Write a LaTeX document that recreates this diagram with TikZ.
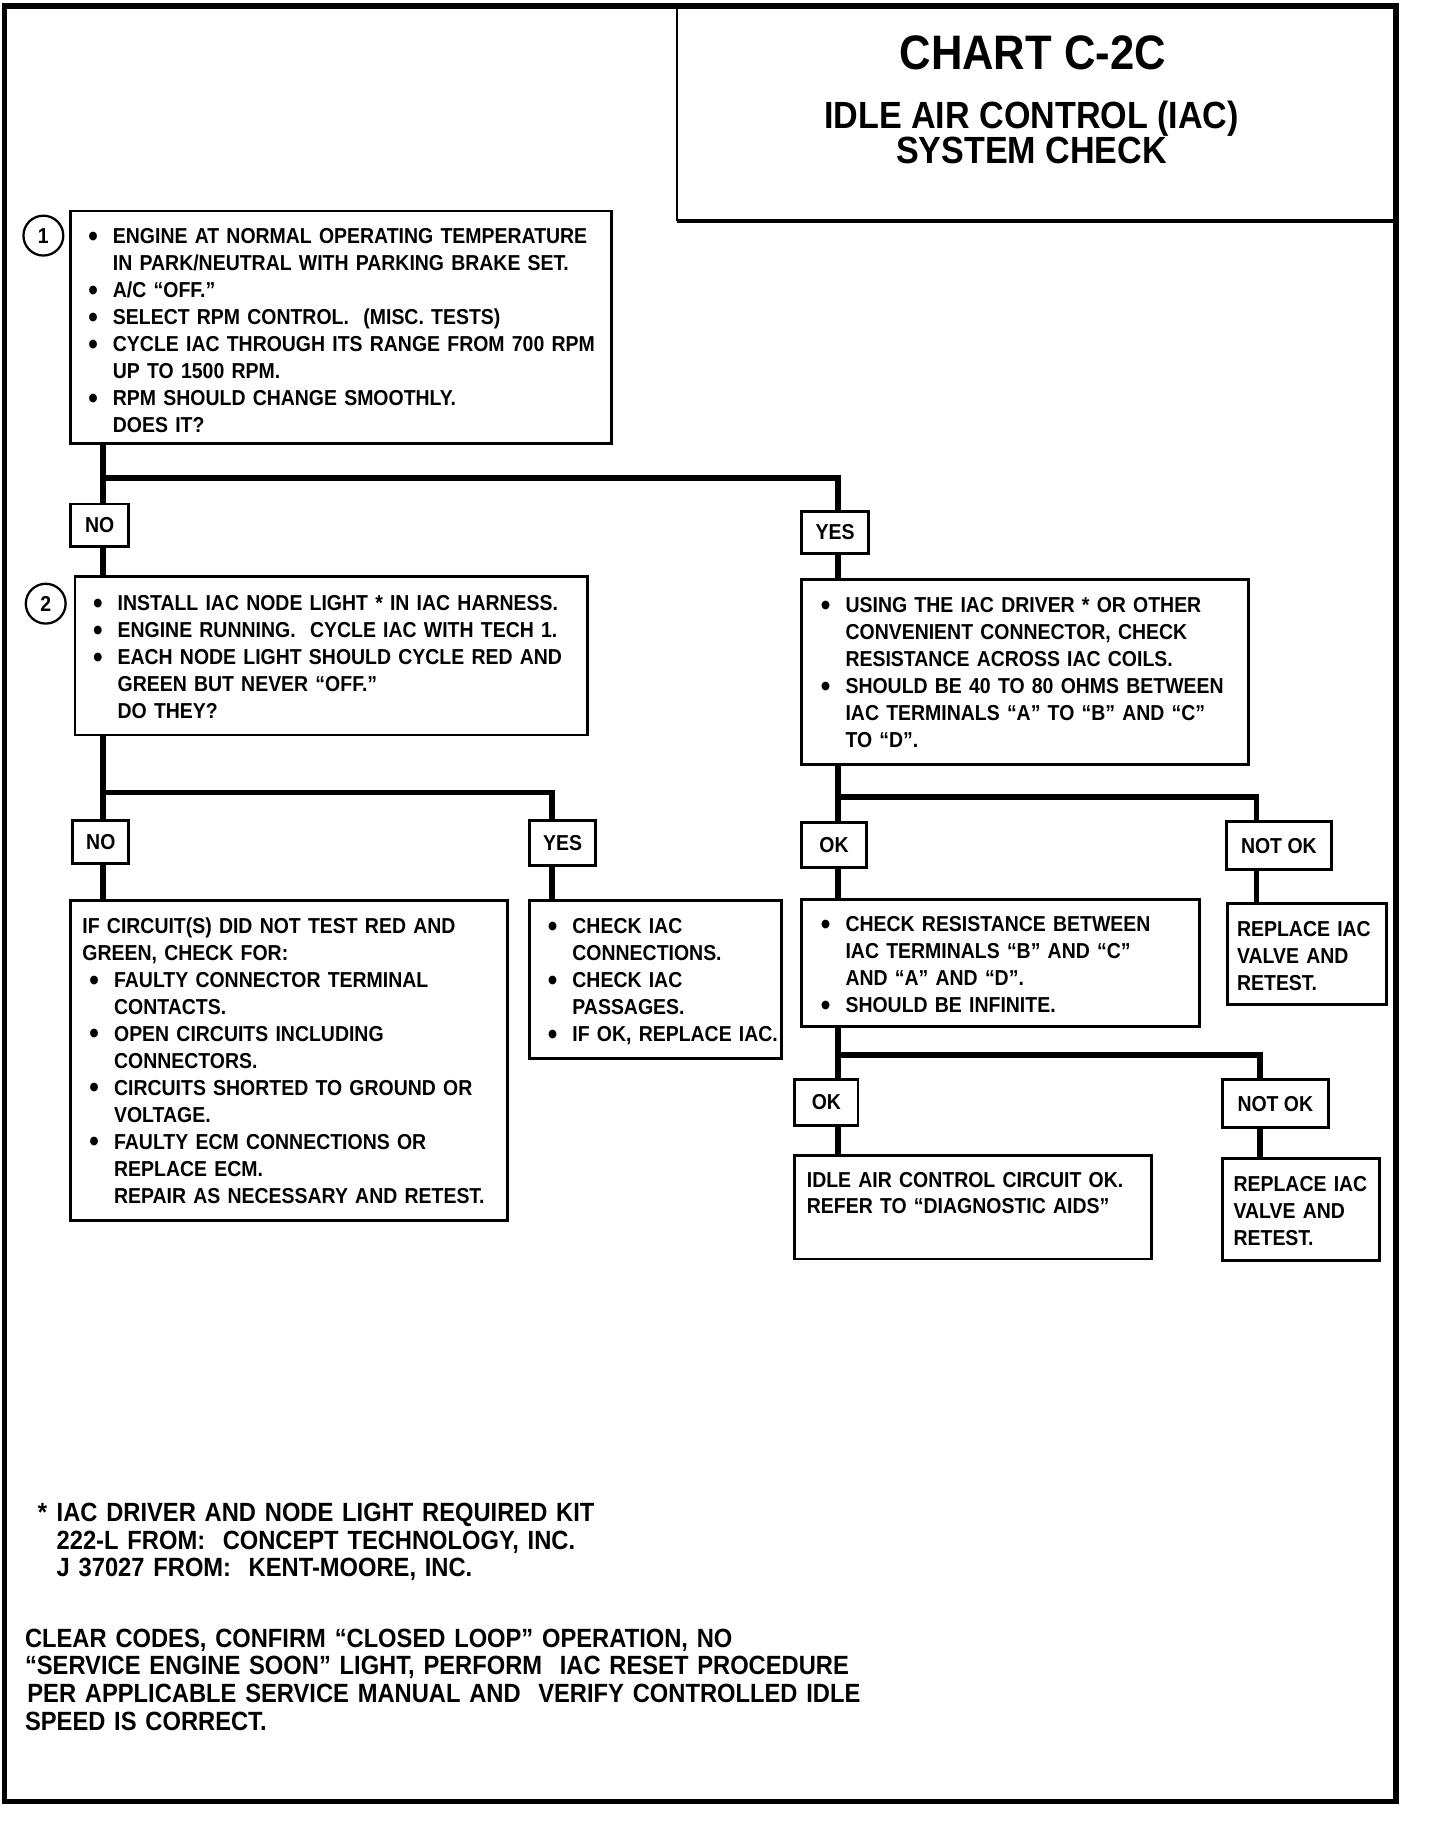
\documentclass[tikz,border=0pt]{standalone}
\usepackage{graphicx}
\usepackage{fontspec}
\setmainfont{Liberation Sans}[FakeStretch=0.90]
\usetikzlibrary{fit}

\newcommand\bul{\makebox[0.42cm][l]{\raisebox{-0.25ex}{\scalebox{1.4}{\textbullet}}}}
\newcommand\skp{\hspace*{0.42cm}}

\begin{document}
\begin{tikzpicture}[x=0.02cm, y=-0.02cm]
    \tikzset{
        box/.style={draw, line width=1.4pt, inner sep=0pt},
        lbl/.style={box, font=\bfseries\fontsize{10.5}{12}\selectfont},
        txt/.style={anchor=north west, inner sep=0pt, text width=9cm, align=left,
            font=\bfseries\fontsize{10.5}{13.1}\selectfont},
        note/.style={txt, text width=16cm, font=\bfseries\fontsize{12.8}{13.4}\selectfont},
        num/.style={circle, draw, line width=1.1pt, minimum size=0.68cm, inner sep=0pt,
            font=\bfseries\fontsize{10.5}{12}\selectfont},
        conn/.style={line width=2.8pt}
    }
    \useasboundingbox (0,0) rectangle (1228,1568);
    \draw[line width=2.6pt] (4,5) rectangle (1191,1537);

    \node[fit={(578,5)(1190,188)}, inner sep=0pt] (title) {};
    \draw[line width=0.8pt] (title.north west) -- (title.south west);
    \draw[line width=2.2pt] (title.south west) -- (title.south east);
    \node[font=\bfseries\fontsize{23.5}{24}\selectfont] (ttl1) at (881,45) {CHART C-2C};
    \node[align=center, font=\bfseries\fontsize{18.4}{17}\selectfont] (ttl2) at (880,113)
        {IDLE AIR CONTROL (IAC)\\SYSTEM CHECK};

    % boxes
    \node[box, fit={(60,180)(522,378)}] (b1) {};
    \node[box, fit={(64,492)(501,627)}] (b2) {};
    \node[box, fit={(684,494)(1065,652)}] (b3) {};
    \node[box, fit={(60,768)(433,1041)}] (b4) {};
    \node[box, fit={(452,768)(667,903)}] (b5) {};
    \node[box, fit={(684,767)(1023,876)}] (b6) {};
    \node[box, fit={(1047,771)(1183,857)}] (b7) {};
    \node[box, fit={(678,986)(982,1074)}] (b8) {};
    \node[box, fit={(1043,988)(1177,1075)}] (b9) {};

    \node[num] (s1) at (37,201) {1};
    \node[num] (s2) at (39,515) {2};

    \node[lbl, minimum width=1cm, minimum height=0.72cm] (no1) at (85,448) {NO};
    \node[lbl, minimum width=1.14cm, minimum height=0.72cm] (yes1) at (712.5,454) {YES};
    \node[lbl, minimum width=0.96cm, minimum height=0.74cm] (no2) at (86,718.5) {NO};
    \node[lbl, minimum width=1.12cm, minimum height=0.76cm] (yes2) at (480,719) {YES};
    \node[lbl, minimum width=1.1cm, minimum height=0.76cm] (ok1) at (711.5,721) {OK};
    \node[lbl, minimum width=1.8cm, minimum height=0.82cm] (nok1) at (1091,721.5) {NOT OK};
    \node[lbl, minimum width=1.08cm, minimum height=0.78cm] (ok2) at (705,940.5) {OK};
    \node[lbl, minimum width=1.8cm, minimum height=0.82cm] (nok2) at (1088,941.5) {NOT OK};

    \node[txt] (b1t) at (75,194.4) {%
        \bul ENGINE AT NORMAL OPERATING TEMPERATURE\\
        \skp IN PARK/NEUTRAL WITH PARKING BRAKE SET.\\
        \bul A/C ``OFF.''\\
        \bul SELECT RPM CONTROL.\ \ (MISC. TESTS)\\
        \bul CYCLE IAC THROUGH ITS RANGE FROM 700 RPM\\
        \skp UP TO 1500 RPM.\\
        \bul RPM SHOULD CHANGE SMOOTHLY.\\
        \skp DOES IT?};
    \node[txt] (b2t) at (79,507.4) {%
        \bul INSTALL IAC NODE LIGHT * IN IAC HARNESS.\\
        \bul ENGINE RUNNING.\ \ CYCLE IAC WITH TECH 1.\\
        \bul EACH NODE LIGHT SHOULD CYCLE RED AND\\
        \skp GREEN BUT NEVER ``OFF.''\\
        \skp DO THEY?};
    \node[txt] (b3t) at (700,509.4) {%
        \bul USING THE IAC DRIVER * OR OTHER\\
        \skp CONVENIENT CONNECTOR, CHECK\\
        \skp RESISTANCE ACROSS IAC COILS.\\
        \bul SHOULD BE 40 TO 80 OHMS BETWEEN\\
        \skp IAC TERMINALS ``A'' TO ``B'' AND ``C''\\
        \skp TO ``D''.};
    \node[txt] (b4t) at (76,782.4) {%
        \hspace*{-0.12cm}IF CIRCUIT(S) DID NOT TEST RED AND\\
        \hspace*{-0.12cm}GREEN, CHECK FOR:\\
        \bul FAULTY CONNECTOR TERMINAL\\
        \skp CONTACTS.\\
        \bul OPEN CIRCUITS INCLUDING\\
        \skp CONNECTORS.\\
        \bul CIRCUITS SHORTED TO GROUND OR\\
        \skp VOLTAGE.\\
        \bul FAULTY ECM CONNECTIONS OR\\
        \skp REPLACE ECM.\\
        \skp REPAIR AS NECESSARY AND RETEST.};
    \node[txt] (b5t) at (467,783.4) {%
        \bul CHECK IAC\\
        \skp CONNECTIONS.\\
        \bul CHECK IAC\\
        \skp PASSAGES.\\
        \bul IF OK, REPLACE IAC.};
    \node[txt] (b6t) at (700,781.4) {%
        \bul CHECK RESISTANCE BETWEEN\\
        \skp IAC TERMINALS ``B'' AND ``C''\\
        \skp AND ``A'' AND ``D''.\\
        \bul SHOULD BE INFINITE.};
    \node[txt] (b7t) at (1055,785.4) {REPLACE IAC\\VALVE AND\\RETEST.};
    \node[txt] (b8t) at (688,999.4) {IDLE AIR CONTROL CIRCUIT OK.\\
        REFER TO ``DIAGNOSTIC AIDS''};
    \node[txt] (b9t) at (1052,1003.4) {REPLACE IAC\\VALVE AND\\RETEST.};

    % connectors
    \coordinate (c1) at (88,408);
    \coordinate (c1r) at (715,408);
    \draw[conn] (b1.south -| c1) -- (c1 |- no1.north);
    \draw[conn] (c1) -- (c1r) -- (c1r |- yes1.north);
    \draw[conn] (no1.south -| c1) -- (c1 |- b2.north);
    \draw[conn] (yes1.south -| c1r) -- (c1r |- b3.north);

    \coordinate (c2) at (88,676);
    \coordinate (c2r) at (471,676);
    \draw[conn] (b2.south -| c2) -- (c2 |- no2.north);
    \draw[conn] (c2) -- (c2r) -- (c2r |- yes2.north);
    \draw[conn] (no2.south -| c2) -- (c2 |- b4.north);
    \draw[conn] (yes2.south -| c2r) -- (c2r |- b5.north);

    \coordinate (c3) at (715,680);
    \coordinate (c3r) at (1072,680);
    \draw[conn] (b3.south -| c3) -- (c3 |- ok1.north);
    \draw[conn] (c3) -- (c3r) -- (c3r |- nok1.north);
    \draw[conn] (ok1.south -| c3) -- (c3 |- b6.north);
    \draw[conn] (nok1.south -| c3r) -- (c3r |- b7.north);

    \coordinate (c4) at (715,900);
    \coordinate (c4r) at (1075,900);
    \draw[conn] (b6.south -| c4) -- (c4 |- ok2.north);
    \draw[conn] (c4) -- (c4r) -- (c4r |- nok2.north);
    \draw[conn] (ok2.south -| c4) -- (c4 |- b8.north);
    \draw[conn] (nok2.south -| c4r) -- (c4r |- b9.north);

    \node[note] (kit) at (32,1282) {%
        \makebox[0.32cm][l]{*}IAC DRIVER AND NODE LIGHT REQUIRED KIT\\
        \hspace*{0.32cm}222-L FROM:\ \ CONCEPT TECHNOLOGY, INC.\\
        \hspace*{0.32cm}J 37027 FROM:\ \ KENT-MOORE, INC.};
    \node[note, font=\bfseries\fontsize{12.8}{13.5}\selectfont] (clear) at (21,1389) {%
        CLEAR CODES, CONFIRM ``CLOSED LOOP'' OPERATION, NO\\
        ``SERVICE ENGINE SOON'' LIGHT, PERFORM\ \ IAC RESET PROCEDURE\\
        \hspace*{0.04cm}PER APPLICABLE SERVICE MANUAL AND\ \ VERIFY CONTROLLED IDLE\\
        SPEED IS CORRECT.};
\end{tikzpicture}
\end{document}
